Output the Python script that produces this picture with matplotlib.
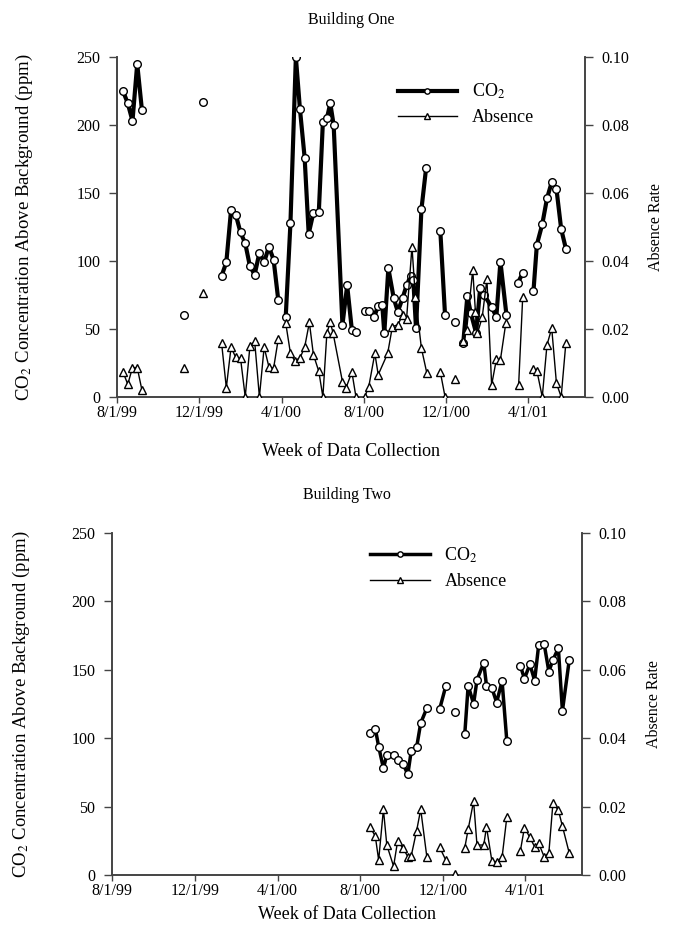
import numpy as np
import matplotlib
matplotlib.use("Agg")
import matplotlib.pyplot as plt

plt.rcParams["font.family"] = ["Liberation Serif", "DejaVu Serif"]
plt.rcParams["mathtext.fontset"] = "stix"

tick_dates = ["1999-08-01", "1999-12-01", "2000-04-01", "2000-08-01", "2000-12-01", "2001-04-01"]
tick_labels = ["8/1/99", "12/1/99", "4/1/00", "8/1/00", "12/1/00", "4/1/01"]
x_start, x_end = "1999-08-01", "2001-06-24"

# None = break in the line (no data that week)
# ---------------- Building One ----------------
b1_co2_dates = [
    "1999-08-10", "1999-08-17", "1999-08-24", "1999-08-31", "1999-09-07",
    "1999-10-01",
    "1999-11-09",
    "1999-11-22",
    "1999-12-07",
    "1999-12-20",
    "2000-01-03", "2000-01-10", "2000-01-17", "2000-01-24", "2000-01-31", "2000-02-07",
    "2000-02-14", "2000-02-21", "2000-02-28", "2000-03-06", "2000-03-13", "2000-03-20",
    "2000-03-27",
    "2000-04-03",
    "2000-04-07", "2000-04-14", "2000-04-22", "2000-04-28", "2000-05-05", "2000-05-11",
    "2000-05-18", "2000-05-26", "2000-06-01", "2000-06-07", "2000-06-12", "2000-06-17",
    "2000-06-30", "2000-07-07", "2000-07-14", "2000-07-20",
    "2000-07-27",
    "2000-08-02", "2000-08-08", "2000-08-16", "2000-08-22", "2000-08-28", "2000-08-31",
    "2000-09-06", "2000-09-14", "2000-09-20", "2000-09-27", "2000-10-03", "2000-10-09",
    "2000-10-13", "2000-10-17", "2000-10-25", "2000-11-01",
    "2000-11-12",
    "2000-11-22", "2000-11-29",
    "2000-12-06",
    "2000-12-13",
    "2000-12-20",
    "2000-12-26", "2001-01-01", "2001-01-06", "2001-01-14", "2001-01-20", "2001-01-26",
    "2001-02-06", "2001-02-13", "2001-02-19", "2001-02-28",
    "2001-03-08",
    "2001-03-17", "2001-03-24",
    "2001-04-02",
    "2001-04-09", "2001-04-14", "2001-04-22", "2001-04-29", "2001-05-06", "2001-05-13",
    "2001-05-20", "2001-05-27",
]
b1_co2 = [
    225, 216, 203, 245, 211,
    None,
    60,
    None,
    217,
    None,
    89, 99, 137.5, 134, 121, 113, 96, 90, 106, 99, 110.5, 101, 71,
    None,
    59, 128, 250, 212, 176, 120, 135.5, 136, 202, 205, 216, 200, 53, 82, 49, 48,
    None,
    63.5, 63.5, 59, 67, 67.6, 47, 94.6, 72.5, 62.7, 72.5, 82, 89, 86, 50.5, 138, 168.6,
    None,
    122, 60,
    None,
    55,
    None,
    40, 74, 62, 47, 80, 75, 66, 59, 99.5, 60,
    None,
    84, 91,
    None,
    78, 112, 127, 146, 158, 153, 123.5, 109,
]

b1_abs_dates = [
    "1999-08-10", "1999-08-17", "1999-08-24", "1999-08-31", "1999-09-07",
    "1999-10-01",
    "1999-11-09",
    "1999-11-22",
    "1999-12-07",
    "1999-12-20",
    "2000-01-03", "2000-01-10", "2000-01-17", "2000-01-24", "2000-01-31", "2000-02-07",
    "2000-02-14", "2000-02-21", "2000-02-28", "2000-03-06", "2000-03-13", "2000-03-20",
    "2000-03-27",
    "2000-04-03",
    "2000-04-07", "2000-04-14", "2000-04-20", "2000-04-28", "2000-05-05", "2000-05-12",
    "2000-05-18", "2000-05-26", "2000-06-01", "2000-06-07", "2000-06-12", "2000-06-16",
    "2000-06-30", "2000-07-05", "2000-07-14", "2000-07-20",
    "2000-07-27",
    "2000-08-02", "2000-08-08", "2000-08-17", "2000-08-22", "2000-09-05", "2000-09-12",
    "2000-09-20", "2000-09-27", "2000-10-03", "2000-10-11", "2000-10-16", "2000-10-25",
    "2000-11-02",
    "2000-11-12",
    "2000-11-22", "2000-11-29",
    "2000-12-06",
    "2000-12-13",
    "2000-12-20",
    "2000-12-26", "2000-12-31", "2001-01-09", "2001-01-13", "2001-01-16", "2001-01-23",
    "2001-01-30", "2001-02-06", "2001-02-13", "2001-02-19", "2001-02-27",
    "2001-03-08",
    "2001-03-18", "2001-03-24",
    "2001-04-02",
    "2001-04-08", "2001-04-14", "2001-04-22", "2001-04-29", "2001-05-06", "2001-05-13",
    "2001-05-20", "2001-05-27",
]
b1_abs = [
    0.0073, 0.0037, 0.0086, 0.0086, 0.0020,
    None,
    0.0086,
    None,
    0.0305,
    None,
    0.0158, 0.0027, 0.0146, 0.0116, 0.0114, 0.0, 0.0150, 0.0163, 0.0, 0.0146, 0.0089,
    0.0084, 0.0171,
    None,
    0.0217, 0.0128, 0.0107, 0.0114, 0.0146, 0.0219, 0.0124, 0.0075, 0.0, 0.0189, 0.0219,
    0.0189, 0.0045, 0.0025, 0.0073, 0.0,
    None,
    0.0, 0.0030, 0.0128, 0.0065, 0.0128, 0.0207, 0.0212, 0.0240, 0.0230, 0.0442, 0.0295,
    0.0143, 0.0070,
    None,
    0.0073, 0.0,
    None,
    0.0052,
    None,
    0.0163, 0.0197, 0.0374, 0.0250, 0.0187, 0.0234, 0.0346, 0.0035, 0.0110, 0.0109, 0.0217,
    None,
    0.0035, 0.0293,
    None,
    0.0081, 0.0077, 0.0, 0.0153, 0.0202, 0.0040, 0.0, 0.0160,
]

# ---------------- Building Two ----------------
b2_dates = [
    "2000-08-15", "2000-08-23", "2000-08-28", "2000-09-04", "2000-09-09", "2000-09-19",
    "2000-09-25", "2000-10-03", "2000-10-10", "2000-10-15", "2000-10-23", "2000-10-29",
    "2000-11-07",
    "2000-11-16",
    "2000-11-26", "2000-12-05",
    "2000-12-12",
    "2000-12-19",
    "2000-12-26",
    "2001-01-02", "2001-01-07", "2001-01-15", "2001-01-20", "2001-01-30", "2001-02-03",
    "2001-02-11", "2001-02-18", "2001-02-26", "2001-03-05",
    "2001-03-15",
    "2001-03-25", "2001-03-31", "2001-04-08", "2001-04-15", "2001-04-21", "2001-04-29",
    "2001-05-06", "2001-05-12", "2001-05-20", "2001-05-26", "2001-06-05",
]
b2_co2 = [
    103.6, 107, 93.8, 78, 87.7, 88, 84, 81, 73.6, 90.6, 93.3, 111, 121.8,
    None,
    121.3, 138,
    None,
    119.4,
    None,
    103, 138.4, 125, 142.5, 155, 138.4, 136.5, 126, 141.8, 98,
    None,
    152.8, 143.3, 154, 142, 168, 168.9, 148.6, 157, 165.7, 119.9, 156.7,
]
b2_abs = [
    0.0141, 0.0114, 0.0044, 0.0192, 0.0088, 0.0026, 0.0100, 0.0078, 0.0054, 0.0056,
    0.0130, 0.0192, 0.0054,
    None,
    0.0081, 0.0044,
    None,
    0.0003,
    None,
    0.0080, 0.0134, 0.0216, 0.0088, 0.0088, 0.0141, 0.0041, 0.0039, 0.0052, 0.0169,
    None,
    0.0071, 0.0139, 0.0110, 0.0083, 0.0093, 0.0054, 0.0065, 0.0210, 0.0190, 0.0143,
    0.0065,
]


def series(dates, vals):
    d = np.array(dates, dtype="datetime64[D]")
    v = np.array([np.nan if x is None else x for x in vals], dtype=float)
    return d, v


def panel(rect, title, co2_dates, co2, abs_dates, absn, co2_lw, leg_anchor,
          xlab_y, ylab_x):
    ax = fig.add_axes(rect)
    ax2 = ax.twinx()
    d, v = series(co2_dates, co2)
    l1, = ax.plot(d, v, "-o", color="black", lw=co2_lw, ms=5.5, mfc="white",
                  mec="black", mew=1.0, label="CO$_2$", zorder=3)
    d, v = series(abs_dates, absn)
    l2, = ax2.plot(d, v, "-^", color="black", lw=1.0, ms=5.5, mfc="white",
                   mec="black", mew=1.0, label="Absence", zorder=3)

    ax.set_xlim(np.datetime64(x_start), np.datetime64(x_end))
    ax.set_ylim(0, 250)
    ax2.set_ylim(0, 0.10)
    ax.set_yticks([0, 50, 100, 150, 200, 250])
    ax2.set_yticks([0, 0.02, 0.04, 0.06, 0.08, 0.10])
    ax2.set_yticklabels(["%.2f" % t for t in [0, 0.02, 0.04, 0.06, 0.08, 0.10]])
    ax.set_xticks(np.array(tick_dates, dtype="datetime64[D]"))
    ax.set_xticklabels(tick_labels)

    for a in (ax, ax2):
        a.spines["top"].set_visible(False)
        for s in ("left", "right", "bottom"):
            a.spines[s].set_color("#444444")
            a.spines[s].set_linewidth(1.2)
        a.tick_params(direction="out", length=6, width=1.0, color="#444444",
                      labelsize=11.5, pad=6)
    ax.tick_params(axis="x", length=4, pad=2)

    ax.set_title(title, fontsize=11.5, pad=24)
    ax.set_xlabel("Week of Data Collection", fontsize=13)
    ax.xaxis.set_label_coords(0.5, xlab_y)
    ax.set_ylabel("CO$_2$ Concentration Above Background (ppm)", fontsize=13.5)
    ax.yaxis.set_label_coords(ylab_x, 0.5)
    ax2.set_ylabel("Absence Rate", fontsize=11.5)
    ax2.yaxis.set_label_coords(1.135, 0.5)

    ax.legend([l1, l2], ["CO$_2$", "Absence"], loc="upper left",
              bbox_to_anchor=leg_anchor, frameon=False, handlelength=3.3,
              fontsize=13, labelspacing=0.45, handletextpad=0.8, numpoints=1,
              markerscale=0.7)
    return ax


fig = plt.figure(figsize=(6.8, 9.36), dpi=100)
panel([0.172, 0.576, 0.688, 0.363], "Building One",
      b1_co2_dates, b1_co2, b1_abs_dates, b1_abs, 3.0, (0.565, 0.975),
      -0.135, -0.175)
panel([0.165, 0.065, 0.691, 0.366], "Building Two",
      b2_dates, b2_co2, b2_dates, b2_abs, 2.5, (0.515, 1.01),
      -0.09, -0.17)

fig.savefig("out.png", dpi=100)
